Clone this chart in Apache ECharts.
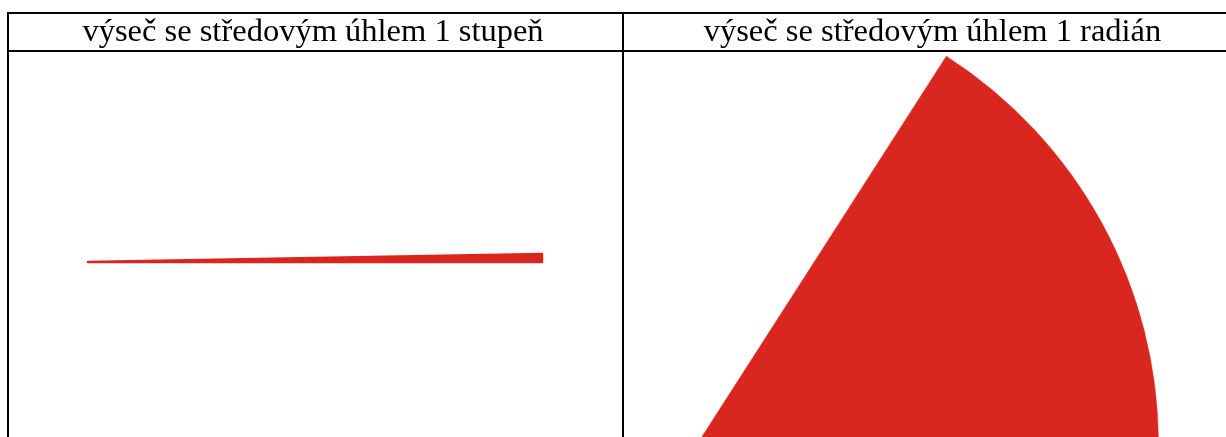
<!DOCTYPE html>
<html>
<head>
<meta charset="utf-8">
<script src="https://cdn.jsdelivr.net/npm/echarts@6/dist/echarts.min.js"></script>
<style>
html,body{margin:0;padding:0;background:#fff;}
#c{width:1226px;height:437px;}
</style>
</head>
<body>
<div id="c"></div>
<script>
// Cell titles
const titles = ['výseč se středovým úhlem 1 stupeň', 'výseč se středovým úhlem 1 radián'];
// Central angles of the sectors, in degrees (1° and 1 rad), plus the empty remainder of the circle
const sectorAngles = [1, 57.2958];
const restAngles = [359, 302.7042];

const chart = echarts.init(document.getElementById('c'), null, {renderer: 'canvas'});
const red = '#d9261e';
const font = '"Liberation Serif", "DejaVu Serif", serif';

const layouts = [
  {center: [88, 262], radius: 454, textX: 308, border: 2.5},
  {center: [697, 444.5], radius: 461.5, textX: 927.5, border: 0.5}
];

const series = sectorAngles.map((a, i) => ({
  type: 'pie',
  center: layouts[i].center,
  radius: [0, layouts[i].radius],
  startAngle: a,
  clockwise: true,
  silent: true,
  label: {show: false},
  labelLine: {show: false},
  animation: false,
  padAngle: 0,
  minAngle: 0,
  data: [
    {value: a, itemStyle: {color: red, borderColor: red, borderWidth: layouts[i].border}},
    {value: restAngles[i], itemStyle: {color: 'rgba(0,0,0,0)', borderWidth: 0}}
  ]
}));

const lineStyle = {stroke: '#000', lineWidth: 2};
chart.setOption({
  animation: false,
  title: titles.map((t, i) => ({
    text: t,
    left: layouts[i].textX,
    top: 11,
    textAlign: 'center',
    textStyle: {fontFamily: font, fontSize: 32.5, fontWeight: 'normal', color: '#000'}
  })),
  graphic: [
    {type: 'line', shape: {x1: 7, y1: 13, x2: 1226, y2: 13}, style: lineStyle, z: 100},
    {type: 'line', shape: {x1: 7, y1: 51, x2: 1226, y2: 51}, style: lineStyle, z: 100},
    {type: 'line', shape: {x1: 8, y1: 12, x2: 8, y2: 437}, style: lineStyle, z: 100},
    {type: 'line', shape: {x1: 623, y1: 12, x2: 623, y2: 437}, style: lineStyle, z: 100}
  ],
  series: series
});
</script>
</body>
</html>
